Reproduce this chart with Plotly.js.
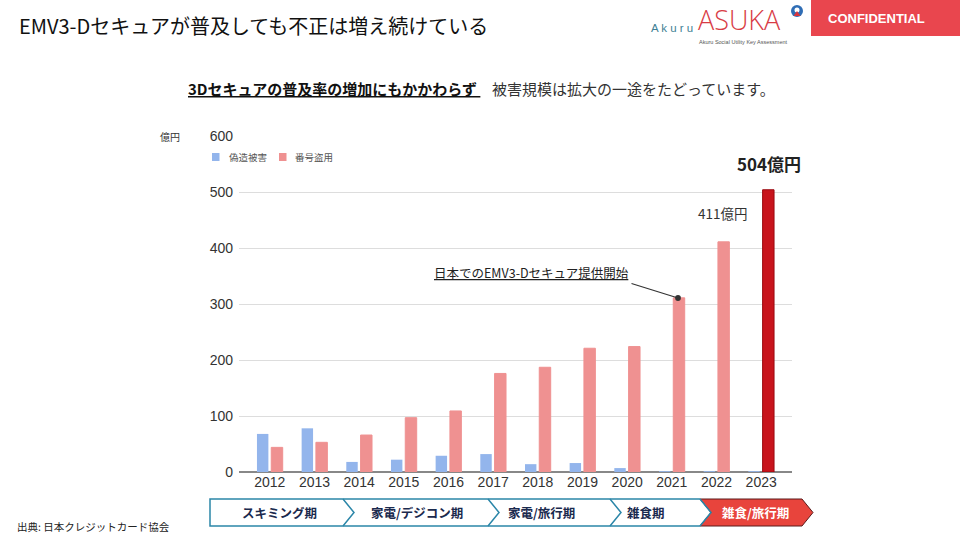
<!DOCTYPE html>
<html><head><meta charset="utf-8">
<script src="https://cdn.plot.ly/plotly-3.0.1.min.js"></script>
<style>html,body{margin:0;padding:0;background:#fff}#chart{width:960px;height:540px}</style>
</head><body><div id="chart"></div>
<script>
// ---- data ----
const years = ['2012','2013','2014','2015','2016','2017','2018','2019','2020','2021','2022','2023'];
const counterfeitLoss = [68, 78, 18, 22, 29, 32, 14, 16, 7, 1.5, 1.5, 1.5];        // 偽造被害 (億円)
const numberTheftLoss = [44, 53, 66, 97, 109, 176, 187, 221, 224, 311, 411, 504]; // 番号盗用 (億円)
const seriesNames = ['偽造被害', '番号盗用'];
const seriesColors = ['#93b5ec', '#ef9191'];
const yTicks = [0, 100, 200, 300, 400, 500, 600];
const phaseLabels = ['スキミング期', '家電/デジコン期', '家電/旅行期', '雑食期', '雑食/旅行期'];

// ---- layout helpers (pixel -> paper) ----
const L = 239, R = 792, T = 136, B = 472;
const px = x => (x - L) / (R - L);
const py = y => (B - y) / (B - T);
const JP = '"Noto Sans CJK JP", "Noto Sans", sans-serif';
const AR = 'Arial, "Liberation Sans", sans-serif';

const redColors = numberTheftLoss.map((v, i) => i === years.length - 1 ? '#c8141c' : seriesColors[1]);
const redLines = numberTheftLoss.map((v, i) => i === years.length - 1 ? '#9a0a10' : seriesColors[1]);

const traces = [
  { type: 'bar', name: seriesNames[0], x: years, y: counterfeitLoss,
    marker: { color: seriesColors[0] }, hoverinfo: 'skip', showlegend: false },
  { type: 'bar', name: seriesNames[1], x: years, y: numberTheftLoss,
    marker: { color: redColors, line: { color: redLines, width: 1 } }, hoverinfo: 'skip', showlegend: false }
];

// phase chevrons
const pTop = 499, pBot = 526, pMid = 512.5, tip = 11;
const bounds = [210, 343, 488, 610, 700, 802];
const P = (x, y) => px(x) + ',' + py(y);
const shapes = [];
shapes.push({ type: 'path', xref: 'paper', yref: 'paper', layer: 'above',
  path: 'M' + P(bounds[4], pTop) + ' L' + P(bounds[5], pTop) + ' L' + P(bounds[5] + tip, pMid) + ' L' + P(bounds[5], pBot) +
        ' L' + P(bounds[4], pBot) + ' L' + P(bounds[4] + tip, pMid) + ' Z',
  fillcolor: '#e8443c', line: { color: '#5a1a1a', width: 1 } });
shapes.push({ type: 'path', xref: 'paper', yref: 'paper', layer: 'above',
  path: 'M' + P(bounds[4], pTop) + ' L' + P(bounds[0], pTop) + ' L' + P(bounds[0], pBot) + ' L' + P(bounds[4], pBot),
  line: { color: '#2b86a8', width: 1.5 } });
for (let i = 1; i <= 4; i++) {
  shapes.push({ type: 'path', xref: 'paper', yref: 'paper', layer: 'above',
    path: 'M' + P(bounds[i], pTop) + ' L' + P(bounds[i] + tip, pMid) + ' L' + P(bounds[i], pBot),
    line: { color: '#2b86a8', width: 1.5 } });
}
// header confidential box
shapes.push({ type: 'rect', xref: 'paper', yref: 'paper', layer: 'above',
  x0: px(811), x1: px(960), y0: py(0), y1: py(36), fillcolor: '#e9464e', line: { width: 0 } });
// logo icon
shapes.push({ type: 'circle', xref: 'paper', yref: 'paper', layer: 'above',
  x0: px(791), x1: px(803), y0: py(5), y1: py(17), fillcolor: '#2f6db5', line: { width: 0 } });
shapes.push({ type: 'circle', xref: 'paper', yref: 'paper', layer: 'above',
  x0: px(794.5), x1: px(799.5), y0: py(7.5), y1: py(12.5), fillcolor: '#ffffff', line: { width: 0 } });
shapes.push({ type: 'path', xref: 'paper', yref: 'paper', layer: 'above',
  path: 'M' + P(797, 11) + ' L' + P(793.5, 16) + ' L' + P(800.5, 16) + ' Z', fillcolor: '#d8353d', line: { width: 0 } });
// legend swatches
const legendX = [212, 279];
legendX.forEach((x, i) => shapes.push({ type: 'rect', xref: 'paper', yref: 'paper', layer: 'above',
  x0: px(x), x1: px(x + 7.5), y0: py(153), y1: py(161), fillcolor: seriesColors[i], line: { width: 0 } }));

const phaseCenters = [279, 417, 541, 646, 755];
const ann = (x, y, text, opts) => Object.assign({ xref: 'paper', yref: 'paper', x: px(x), y: py(y), text: text,
  showarrow: false, xanchor: 'center', yanchor: 'middle' }, opts || {});

const annotations = [
  ann(17, 25, 'EMV3-Dセキュアが普及しても不正は増え続けている', { xanchor: 'left', font: { family: JP, size: 20, color: '#111' } }),
  ann(649, 28, 'A k u r u', { xanchor: 'left', font: { family: AR, size: 11.5, color: '#3f7f95' } }),
  ann(696, 20, 'ASUKA', { xanchor: 'left', font: { family: '"Open Sans", sans-serif', size: 27, color: '#d83c46', weight: 300 } }),
  ann(697, 41.5, 'Akuru Social Utility Key Assessment', { xanchor: 'left', font: { family: AR, size: 5.5, color: '#555' } }),
  ann(876, 19, '<b>CONFIDENTIAL</b>', { font: { family: AR, size: 13, color: '#ffffff' } }),
  ann(186, 88, '<b>3Dセキュアの普及率の増加にもかかわらず&nbsp;</b>', { xanchor: 'left', font: { family: JP, size: 15, color: '#111', lineposition: 'under' } }),
  ann(490, 88, '被害規模は拡大の一途をたどっています。', { xanchor: 'left', font: { family: JP, size: 15, color: '#333' } }),
  ann(170, 136, '億円', { font: { family: JP, size: 10, color: '#333' } }),
  ann(227, 157, seriesNames[0], { xanchor: 'left', font: { family: JP, size: 9.5, color: '#555' } }),
  ann(293, 157, seriesNames[1], { xanchor: 'left', font: { family: JP, size: 9.5, color: '#555' } }),
  ann(769, 163, '<b>' + numberTheftLoss[11] + '億円</b>', { font: { family: JP, size: 17, color: '#222' } }),
  ann(722, 213, numberTheftLoss[10] + '億円', { font: { family: JP, size: 13.5, color: '#333' } }),
  ann(531, 272, '日本でのEMV3-Dセキュア提供開始', { font: { family: JP, size: 12.5, color: '#222', lineposition: 'under' } }),
  { xref: 'paper', yref: 'paper', x: px(678), y: py(298), text: '', showarrow: true, ax: -48, ay: -15,
    arrowhead: 6, arrowsize: 1.2, arrowwidth: 1.2, arrowcolor: '#333', standoff: 0 },
  ann(15, 526, '出典: 日本クレジットカード協会', { xanchor: 'left', font: { family: JP, size: 10.5, color: '#222' } })
];
phaseLabels.forEach((t, i) => {
  annotations.push(ann(phaseCenters[i], 512.5, '<b>' + t + '</b>',
    { font: { family: JP, size: 12.5, color: i === 4 ? '#ffffff' : '#1b2a4e' } }));
});

const layout = {
  width: 960, height: 540,
  margin: { l: L, r: 960 - R, t: T, b: 540 - B, pad: 0 },
  paper_bgcolor: '#ffffff', plot_bgcolor: '#ffffff',
  barmode: 'group', bargap: 0.36, bargroupgap: 0.2,
  showlegend: false,
  xaxis: { type: 'category', range: [-0.69, 11.69], showgrid: false, ticks: '', showline: false,
    tickfont: { family: AR, size: 14, color: '#333' }, fixedrange: true },
  yaxis: { range: [0, 600], tickvals: yTicks, ticktext: yTicks.map(String), showgrid: true, gridcolor: '#dddddd', gridwidth: 1,
    zeroline: true, zerolinecolor: '#888888', zerolinewidth: 1.3, showline: false, ticks: '',
    tickfont: { family: AR, size: 14, color: '#333' }, ticklabelstandoff: 5, fixedrange: true },
  shapes: shapes,
  annotations: annotations
};

Plotly.newPlot('chart', traces, layout, { displayModeBar: false, staticPlot: true });
</script>
</body></html>
